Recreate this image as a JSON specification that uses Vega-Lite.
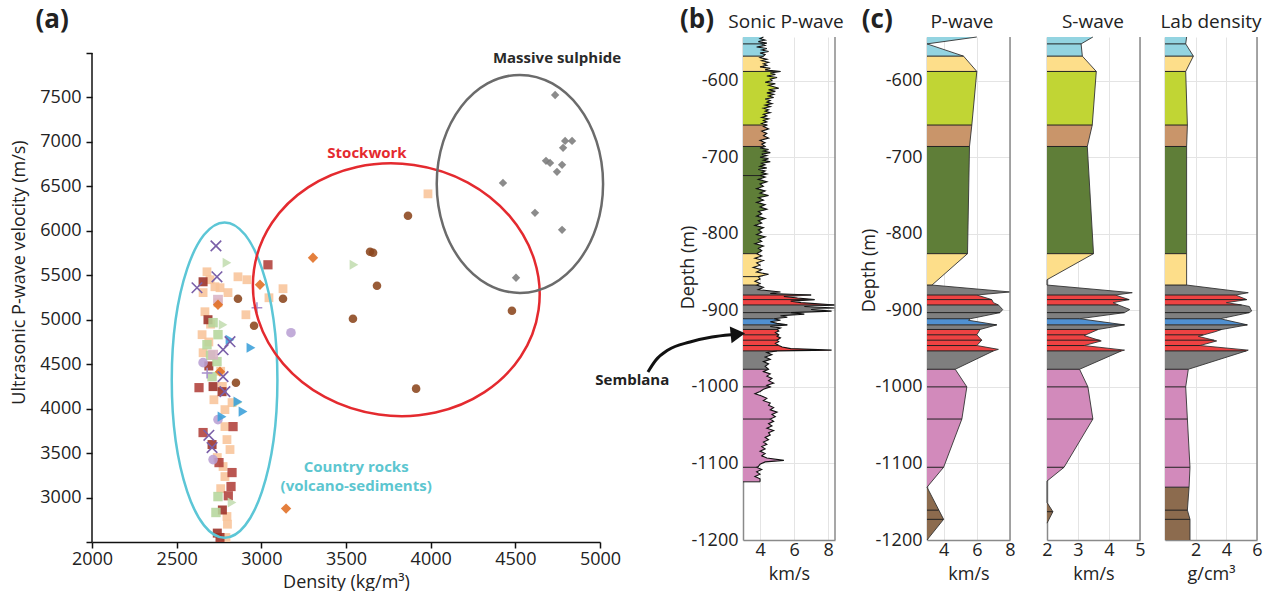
{
"$schema":"https://vega.github.io/schema/vega-lite/v6.json",
"padding":{"left":10,"top":7,"right":2,"bottom":0},
"background":"white",
"bounds":"flush",
"spacing":0,
"datasets":{
"pts":[
{"den":4735,"vel":7528,"g":"sulph"},{"den":4794,"vel":7011,"g":"sulph"},{"den":4835,"vel":7011,"g":"sulph"},{"den":4782,"vel":6933,"g":"sulph"},{"den":4681,"vel":6787,"g":"sulph"},{"den":4705,"vel":6764,"g":"sulph"},{"den":4776,"vel":6742,"g":"sulph"},{"den":4746,"vel":6663,"g":"sulph"},{"den":4427,"vel":6539,"g":"sulph"},{"den":4616,"vel":6202,"g":"sulph"},{"den":4776,"vel":6011,"g":"sulph"},{"den":4504,"vel":5472,"g":"sulph"},
{"den":3984,"vel":6416,"g":"osq"},{"den":2915,"vel":5450,"g":"osq"},{"den":3045,"vel":5247,"g":"osq"},{"den":3128,"vel":5349,"g":"osq"},{"den":2909,"vel":5056,"g":"osq"},{"den":2679,"vel":5539,"g":"osq"},{"den":2862,"vel":5483,"g":"osq"},{"den":2697,"vel":5450,"g":"osq"},{"den":2756,"vel":5360,"g":"osq"},{"den":2656,"vel":5305,"g":"osq"},{"den":2803,"vel":5305,"g":"osq"},{"den":2667,"vel":5090,"g":"osq"},{"den":2650,"vel":4832,"g":"osq"},{"den":2656,"vel":4629,"g":"osq"},{"den":2785,"vel":3989,"g":"osq"},{"den":2827,"vel":4068,"g":"osq"},{"den":2785,"vel":3798,"g":"osq"},{"den":2797,"vel":3652,"g":"osq"},{"den":2815,"vel":3540,"g":"osq"},{"den":2774,"vel":3349,"g":"osq"},{"den":2785,"vel":3236,"g":"osq"},{"den":2797,"vel":2787,"g":"osq"},{"den":2791,"vel":2551,"g":"osq"},{"den":2726,"vel":5371,"g":"osq"},{"den":2744,"vel":5191,"g":"osq"},{"den":2700,"vel":4950,"g":"osq"},{"den":2760,"vel":4420,"g":"osq"},{"den":2690,"vel":4750,"g":"osq"},{"den":2740,"vel":3450,"g":"osq"},{"den":2800,"vel":2700,"g":"osq"},{"den":2770,"vel":4250,"g":"osq"},{"den":2720,"vel":4100,"g":"osq"},{"den":2760,"vel":3100,"g":"osq"},
{"den":2715,"vel":4248,"g":"rsq"},{"den":2768,"vel":4191,"g":"rsq"},{"den":2709,"vel":3596,"g":"rsq"},{"den":2756,"vel":2551,"g":"rsq"},{"den":2685,"vel":5000,"g":"rsq"},{"den":2656,"vel":5427,"g":"rsq"},{"den":2740,"vel":2600,"g":"rsq"},{"den":2770,"vel":2860,"g":"rsq"},{"den":2690,"vel":4480,"g":"rsq"},
{"den":2632,"vel":4236,"g":"rtiny"},{"den":2656,"vel":3731,"g":"rtiny"},{"den":2833,"vel":3798,"g":"rtiny"},{"den":2827,"vel":3281,"g":"rtiny"},{"den":2821,"vel":3124,"g":"rtiny"},{"den":2750,"vel":3393,"g":"rtiny"},{"den":3039,"vel":5618,"g":"rtiny"},{"den":2805,"vel":3020,"g":"rtiny"},
{"den":2715,"vel":4967,"g":"gsq"},{"den":2744,"vel":4832,"g":"gsq"},{"den":2679,"vel":4719,"g":"gsq"},{"den":2738,"vel":4529,"g":"gsq"},{"den":2709,"vel":4360,"g":"gsq"},{"den":2744,"vel":3011,"g":"gsq"},{"den":2732,"vel":2832,"g":"gsq"},{"den":2700,"vel":4600,"g":"gsq"},
{"den":2744,"vel":5225,"g":"pksq"},{"den":2715,"vel":4607,"g":"pksq"},
{"den":3175,"vel":4854,"g":"lcirc"},{"den":2656,"vel":4517,"g":"lcirc"},{"den":2744,"vel":3877,"g":"lcirc"},{"den":2715,"vel":3427,"g":"lcirc"},
{"den":2797,"vel":5640,"g":"gtri"},{"den":2774,"vel":4944,"g":"gtri"},{"den":2827,"vel":2944,"g":"gtri"},{"den":2862,"vel":4068,"g":"gtri"},{"den":3547,"vel":5618,"g":"gtri"},
{"den":2939,"vel":4685,"g":"btri"},{"den":2862,"vel":4078,"g":"btri"},{"den":2892,"vel":3967,"g":"btri"},{"den":2815,"vel":4775,"g":"btri"},{"den":2768,"vel":3910,"g":"btri"},
{"den":3305,"vel":5697,"g":"odia"},{"den":2992,"vel":5393,"g":"odia"},{"den":3146,"vel":2876,"g":"odia"},{"den":2744,"vel":5168,"g":"odia"},{"den":2756,"vel":4416,"g":"odia"},
{"den":3866,"vel":6169,"g":"circ"},{"den":3642,"vel":5764,"g":"circ"},{"den":3660,"vel":5753,"g":"circ"},{"den":3683,"vel":5382,"g":"circ"},{"den":3541,"vel":5011,"g":"circ"},{"den":3914,"vel":4225,"g":"circ"},{"den":4480,"vel":5101,"g":"circ"},{"den":3128,"vel":5236,"g":"circ"},{"den":2957,"vel":4933,"g":"circ"},{"den":2862,"vel":5236,"g":"circ"},{"den":2850,"vel":4292,"g":"circ"},
{"den":2732,"vel":5831,"g":"x"},{"den":2620,"vel":5360,"g":"x"},{"den":2738,"vel":5483,"g":"x"},{"den":2774,"vel":4663,"g":"x"},{"den":2815,"vel":4753,"g":"x"},{"den":2774,"vel":4360,"g":"x"},{"den":2785,"vel":4191,"g":"x"},{"den":2709,"vel":3562,"g":"x"},{"den":2690,"vel":3700,"g":"x"},
{"den":2974,"vel":5135,"g":"lplus"},{"den":2680,"vel":4400,"g":"lplus"}
],
"sonic":[
{"d":-543,"v":4.2,"l":"bl"},{"d":-545,"v":4.0,"l":"bl"},{"d":-547,"v":4.3,"l":"bl"},{"d":-549,"v":3.9,"l":"bl"},{"d":-551,"v":4.4,"l":"bl"},{"d":-552,"v":4.1,"l":"bl"},{"d":-554,"v":4.3,"l":"bl"},{"d":-556,"v":3.8,"l":"bl"},{"d":-558,"v":4.4,"l":"bl"},{"d":-560,"v":4.1,"l":"bl"},{"d":-562,"v":4.5,"l":"bl"},{"d":-564,"v":4.0,"l":"bl"},{"d":-566,"v":4.3,"l":"bl"},{"d":-568,"v":4.2,"l":"bl"},
{"d":-568,"v":4.2,"l":"y1"},{"d":-570,"v":4.0,"l":"y1"},{"d":-572,"v":4.4,"l":"y1"},{"d":-574,"v":4.1,"l":"y1"},{"d":-576,"v":4.5,"l":"y1"},{"d":-578,"v":4.2,"l":"y1"},{"d":-580,"v":4.4,"l":"y1"},{"d":-582,"v":4.0,"l":"y1"},{"d":-584,"v":4.6,"l":"y1"},{"d":-586,"v":4.3,"l":"y1"},{"d":-588,"v":5.2,"l":"y1"},
{"d":-588,"v":5.2,"l":"yg"},{"d":-590,"v":4.6,"l":"yg"},{"d":-592,"v":4.9,"l":"yg"},{"d":-594,"v":4.4,"l":"yg"},{"d":-596,"v":5.0,"l":"yg"},{"d":-598,"v":4.6,"l":"yg"},{"d":-600,"v":4.7,"l":"yg"},{"d":-602,"v":4.3,"l":"yg"},{"d":-604,"v":4.9,"l":"yg"},{"d":-606,"v":4.5,"l":"yg"},{"d":-608,"v":4.8,"l":"yg"},{"d":-610,"v":5.1,"l":"yg"},{"d":-612,"v":4.5,"l":"yg"},{"d":-614,"v":4.9,"l":"yg"},{"d":-616,"v":4.4,"l":"yg"},{"d":-618,"v":4.8,"l":"yg"},{"d":-620,"v":4.5,"l":"yg"},{"d":-622,"v":4.8,"l":"yg"},{"d":-624,"v":4.3,"l":"yg"},{"d":-626,"v":4.6,"l":"yg"},{"d":-628,"v":4.4,"l":"yg"},{"d":-630,"v":4.7,"l":"yg"},{"d":-632,"v":4.3,"l":"yg"},{"d":-634,"v":4.6,"l":"yg"},{"d":-636,"v":4.2,"l":"yg"},{"d":-638,"v":4.5,"l":"yg"},{"d":-640,"v":4.3,"l":"yg"},{"d":-642,"v":4.6,"l":"yg"},{"d":-644,"v":4.2,"l":"yg"},{"d":-646,"v":4.4,"l":"yg"},{"d":-648,"v":4.1,"l":"yg"},{"d":-650,"v":4.5,"l":"yg"},{"d":-652,"v":4.2,"l":"yg"},{"d":-654,"v":4.4,"l":"yg"},{"d":-656,"v":4.1,"l":"yg"},{"d":-658,"v":4.4,"l":"yg"},
{"d":-658,"v":4.4,"l":"t"},{"d":-660,"v":4.2,"l":"t"},{"d":-663,"v":4.5,"l":"t"},{"d":-666,"v":4.1,"l":"t"},{"d":-669,"v":4.4,"l":"t"},{"d":-672,"v":4.2,"l":"t"},{"d":-675,"v":4.5,"l":"t"},{"d":-678,"v":4.0,"l":"t"},{"d":-681,"v":4.3,"l":"t"},{"d":-683,"v":4.1,"l":"t"},{"d":-686,"v":4.3,"l":"t"},
{"d":-686,"v":4.3,"l":"dg"},{"d":-688,"v":4.0,"l":"dg"},{"d":-690,"v":4.5,"l":"dg"},{"d":-692,"v":4.2,"l":"dg"},{"d":-694,"v":4.6,"l":"dg"},{"d":-696,"v":4.1,"l":"dg"},{"d":-698,"v":4.4,"l":"dg"},{"d":-700,"v":4.0,"l":"dg"},{"d":-702,"v":4.5,"l":"dg"},{"d":-704,"v":4.2,"l":"dg"},{"d":-706,"v":4.6,"l":"dg"},{"d":-708,"v":4.1,"l":"dg"},{"d":-710,"v":4.3,"l":"dg"},{"d":-712,"v":4.0,"l":"dg"},{"d":-714,"v":4.4,"l":"dg"},{"d":-716,"v":3.9,"l":"dg"},{"d":-718,"v":4.3,"l":"dg"},{"d":-720,"v":4.1,"l":"dg"},{"d":-722,"v":4.4,"l":"dg"},{"d":-724,"v":4.0,"l":"dg"},{"d":-726,"v":4.3,"l":"dg"},{"d":-729,"v":3.9,"l":"dg"},{"d":-732,"v":4.4,"l":"dg"},{"d":-735,"v":4.0,"l":"dg"},{"d":-738,"v":4.2,"l":"dg"},{"d":-741,"v":3.8,"l":"dg"},{"d":-744,"v":4.3,"l":"dg"},{"d":-747,"v":4.0,"l":"dg"},{"d":-750,"v":4.5,"l":"dg"},{"d":-753,"v":3.9,"l":"dg"},{"d":-756,"v":4.2,"l":"dg"},{"d":-759,"v":3.8,"l":"dg"},{"d":-762,"v":4.3,"l":"dg"},{"d":-765,"v":4.0,"l":"dg"},{"d":-768,"v":4.4,"l":"dg"},{"d":-771,"v":3.9,"l":"dg"},{"d":-774,"v":4.1,"l":"dg"},{"d":-777,"v":3.8,"l":"dg"},{"d":-780,"v":4.3,"l":"dg"},{"d":-783,"v":3.9,"l":"dg"},{"d":-786,"v":4.1,"l":"dg"},{"d":-789,"v":3.7,"l":"dg"},{"d":-792,"v":4.2,"l":"dg"},{"d":-795,"v":3.9,"l":"dg"},{"d":-798,"v":4.1,"l":"dg"},{"d":-801,"v":3.8,"l":"dg"},{"d":-804,"v":4.3,"l":"dg"},{"d":-807,"v":3.9,"l":"dg"},{"d":-810,"v":4.1,"l":"dg"},{"d":-813,"v":3.7,"l":"dg"},{"d":-816,"v":4.2,"l":"dg"},{"d":-819,"v":3.9,"l":"dg"},{"d":-822,"v":4.1,"l":"dg"},{"d":-826,"v":3.8,"l":"dg"},
{"d":-826,"v":3.8,"l":"y2"},{"d":-829,"v":4.1,"l":"y2"},{"d":-832,"v":3.7,"l":"y2"},{"d":-835,"v":4.2,"l":"y2"},{"d":-838,"v":3.8,"l":"y2"},{"d":-841,"v":4.0,"l":"y2"},{"d":-844,"v":3.6,"l":"y2"},{"d":-847,"v":4.1,"l":"y2"},{"d":-850,"v":3.8,"l":"y2"},{"d":-853,"v":4.5,"l":"y2"},{"d":-856,"v":3.9,"l":"y2"},{"d":-859,"v":4.0,"l":"y2"},{"d":-862,"v":3.7,"l":"y2"},{"d":-865,"v":4.0,"l":"y2"},{"d":-867,"v":3.8,"l":"y2"},
{"d":-867,"v":3.8,"l":"g1"},{"d":-870,"v":4.2,"l":"g1"},{"d":-873,"v":3.9,"l":"g1"},{"d":-876,"v":5.2,"l":"g1"},{"d":-878,"v":4.6,"l":"g1"},{"d":-880,"v":7.0,"l":"g1"},
{"d":-880,"v":7.0,"l":"r1"},{"d":-882,"v":5.4,"l":"r1"},{"d":-884,"v":6.2,"l":"r1"},{"d":-886,"v":7.2,"l":"r1"},{"d":-888,"v":5.8,"l":"r1"},{"d":-890,"v":6.4,"l":"r1"},{"d":-893,"v":8.4,"l":"r1"},
{"d":-893,"v":8.4,"l":"g2"},{"d":-895,"v":6.6,"l":"g2"},{"d":-897,"v":8.4,"l":"g2"},{"d":-899,"v":7.0,"l":"g2"},{"d":-901,"v":8.2,"l":"g2"},{"d":-903,"v":5.8,"l":"g2"},{"d":-905,"v":6.6,"l":"g2"},{"d":-907,"v":5.2,"l":"g2"},{"d":-909,"v":5.6,"l":"g2"},{"d":-911,"v":4.8,"l":"g2"},
{"d":-911,"v":4.8,"l":"b"},{"d":-913,"v":5.2,"l":"b"},{"d":-915,"v":4.6,"l":"b"},{"d":-917,"v":5.0,"l":"b"},{"d":-919,"v":5.6,"l":"b"},
{"d":-919,"v":5.6,"l":"g4"},{"d":-921,"v":4.6,"l":"g4"},{"d":-923,"v":5.2,"l":"g4"},{"d":-925,"v":5.0,"l":"g4"},
{"d":-925,"v":5.0,"l":"r3"},{"d":-927,"v":5.1,"l":"r3"},{"d":-929,"v":4.9,"l":"r3"},{"d":-932,"v":5.1,"l":"r3"},{"d":-934,"v":5.0,"l":"r3"},{"d":-936,"v":5.2,"l":"r3"},{"d":-939,"v":5.0,"l":"r3"},{"d":-941,"v":5.1,"l":"r3"},{"d":-943,"v":4.9,"l":"r3"},{"d":-946,"v":5.1,"l":"r3"},{"d":-948,"v":5.3,"l":"r3"},{"d":-950,"v":5.8,"l":"r3"},{"d":-952,"v":8.2,"l":"r3"},{"d":-953,"v":5.0,"l":"r3"},
{"d":-953,"v":5.0,"l":"g5"},{"d":-955,"v":4.4,"l":"g5"},{"d":-958,"v":4.7,"l":"g5"},{"d":-961,"v":4.3,"l":"g5"},{"d":-964,"v":4.6,"l":"g5"},{"d":-967,"v":4.2,"l":"g5"},{"d":-970,"v":4.5,"l":"g5"},{"d":-973,"v":4.3,"l":"g5"},{"d":-977,"v":4.5,"l":"g5"},
{"d":-977,"v":4.5,"l":"p"},{"d":-980,"v":4.2,"l":"p"},{"d":-983,"v":4.6,"l":"p"},{"d":-986,"v":4.4,"l":"p"},{"d":-989,"v":4.7,"l":"p"},{"d":-992,"v":4.5,"l":"p"},{"d":-995,"v":4.8,"l":"p"},{"d":-998,"v":4.4,"l":"p"},{"d":-1000,"v":4.6,"l":"p"},{"d":-1003,"v":4.2,"l":"p"},{"d":-1006,"v":4.0,"l":"p"},{"d":-1009,"v":3.7,"l":"p"},{"d":-1012,"v":4.1,"l":"p"},{"d":-1015,"v":4.4,"l":"p"},{"d":-1018,"v":4.2,"l":"p"},{"d":-1021,"v":4.6,"l":"p"},{"d":-1024,"v":4.5,"l":"p"},{"d":-1027,"v":4.8,"l":"p"},{"d":-1030,"v":4.6,"l":"p"},{"d":-1033,"v":5.0,"l":"p"},{"d":-1036,"v":4.7,"l":"p"},{"d":-1039,"v":4.9,"l":"p"},{"d":-1042,"v":4.6,"l":"p"},{"d":-1045,"v":4.8,"l":"p"},{"d":-1048,"v":4.5,"l":"p"},{"d":-1051,"v":4.7,"l":"p"},{"d":-1054,"v":4.4,"l":"p"},{"d":-1057,"v":4.8,"l":"p"},{"d":-1060,"v":4.5,"l":"p"},{"d":-1063,"v":4.6,"l":"p"},{"d":-1066,"v":4.3,"l":"p"},{"d":-1069,"v":4.5,"l":"p"},{"d":-1072,"v":4.2,"l":"p"},{"d":-1075,"v":4.4,"l":"p"},{"d":-1078,"v":4.1,"l":"p"},{"d":-1081,"v":4.3,"l":"p"},{"d":-1084,"v":4.0,"l":"p"},{"d":-1087,"v":4.3,"l":"p"},{"d":-1090,"v":4.1,"l":"p"},{"d":-1093,"v":4.4,"l":"p"},{"d":-1096,"v":5.4,"l":"p"},{"d":-1098,"v":4.3,"l":"p"},{"d":-1101,"v":4.0,"l":"p"},{"d":-1104,"v":3.9,"l":"p"},{"d":-1105,"v":3.8,"l":"p"},{"d":-1108,"v":4.1,"l":"p"},{"d":-1111,"v":3.8,"l":"p"},{"d":-1114,"v":4.0,"l":"p"},{"d":-1117,"v":3.7,"l":"p"},{"d":-1120,"v":4.0,"l":"p"},{"d":-1124,"v":4.0,"l":"p"}
],
"prof":[
{"p":"P","d":-543,"v":6.0,"l":"bl"},{"p":"P","d":-552,"v":3.0,"l":"bl"},{"p":"P","d":-568,"v":5.2,"l":"bl"},
{"p":"P","d":-568,"v":5.2,"l":"y1"},{"p":"P","d":-588,"v":6.0,"l":"y1"},
{"p":"P","d":-588,"v":6.0,"l":"yg"},{"p":"P","d":-658,"v":5.7,"l":"yg"},
{"p":"P","d":-658,"v":5.7,"l":"t"},{"p":"P","d":-686,"v":5.56,"l":"t"},
{"p":"P","d":-686,"v":5.56,"l":"dg"},{"p":"P","d":-826,"v":5.44,"l":"dg"},
{"p":"P","d":-826,"v":5.44,"l":"y2"},{"p":"P","d":-867,"v":3.3,"l":"y2"},
{"p":"P","d":-867,"v":3.3,"l":"g1"},{"p":"P","d":-876,"v":8.0,"l":"g1"},{"p":"P","d":-880,"v":6.0,"l":"g1"},
{"p":"P","d":-880,"v":6.0,"l":"r1"},{"p":"P","d":-886,"v":6.9,"l":"r1"},{"p":"P","d":-890,"v":7.0,"l":"r1"},{"p":"P","d":-893,"v":7.3,"l":"r1"},
{"p":"P","d":-893,"v":7.3,"l":"g2"},{"p":"P","d":-899,"v":7.56,"l":"g2"},{"p":"P","d":-903,"v":7.4,"l":"g2"},{"p":"P","d":-911,"v":5.6,"l":"g2"},
{"p":"P","d":-911,"v":5.6,"l":"b"},{"p":"P","d":-913,"v":5.5,"l":"b"},{"p":"P","d":-919,"v":7.2,"l":"b"},
{"p":"P","d":-919,"v":7.2,"l":"g4"},{"p":"P","d":-925,"v":6.2,"l":"g4"},
{"p":"P","d":-925,"v":6.2,"l":"r3"},{"p":"P","d":-932,"v":6.0,"l":"r3"},{"p":"P","d":-939,"v":6.3,"l":"r3"},{"p":"P","d":-946,"v":6.0,"l":"r3"},{"p":"P","d":-951,"v":7.3,"l":"r3"},{"p":"P","d":-953,"v":7.0,"l":"r3"},
{"p":"P","d":-953,"v":7.0,"l":"g5"},{"p":"P","d":-977,"v":4.7,"l":"g5"},
{"p":"P","d":-977,"v":4.7,"l":"p"},{"p":"P","d":-1000,"v":5.4,"l":"p"},{"p":"P","d":-1042,"v":5.1,"l":"p"},{"p":"P","d":-1105,"v":4.0,"l":"p"},{"p":"P","d":-1131,"v":3.0,"l":"p"},
{"p":"P","d":-1131,"v":3.0,"l":"br"},{"p":"P","d":-1173,"v":4.0,"l":"br"},{"p":"P","d":-1200,"v":3.0,"l":"br"},
{"p":"S","d":-543,"v":3.48,"l":"bl"},{"p":"S","d":-552,"v":3.1,"l":"bl"},{"p":"S","d":-568,"v":3.14,"l":"bl"},
{"p":"S","d":-568,"v":3.14,"l":"y1"},{"p":"S","d":-588,"v":3.59,"l":"y1"},
{"p":"S","d":-588,"v":3.59,"l":"yg"},{"p":"S","d":-658,"v":3.46,"l":"yg"},
{"p":"S","d":-658,"v":3.46,"l":"t"},{"p":"S","d":-686,"v":3.3,"l":"t"},
{"p":"S","d":-686,"v":3.3,"l":"dg"},{"p":"S","d":-826,"v":3.5,"l":"dg"},
{"p":"S","d":-826,"v":3.5,"l":"y2"},{"p":"S","d":-860,"v":2.0,"l":"y2"},
{"p":"S","d":-867,"v":2.0,"l":"g1"},{"p":"S","d":-877,"v":4.75,"l":"g1"},{"p":"S","d":-880,"v":4.2,"l":"g1"},
{"p":"S","d":-880,"v":4.2,"l":"r1"},{"p":"S","d":-886,"v":4.65,"l":"r1"},{"p":"S","d":-890,"v":4.13,"l":"r1"},{"p":"S","d":-893,"v":4.3,"l":"r1"},
{"p":"S","d":-893,"v":4.3,"l":"g2"},{"p":"S","d":-899,"v":4.67,"l":"g2"},{"p":"S","d":-903,"v":4.5,"l":"g2"},{"p":"S","d":-911,"v":3.05,"l":"g2"},
{"p":"S","d":-911,"v":3.05,"l":"b"},{"p":"S","d":-919,"v":4.5,"l":"b"},
{"p":"S","d":-919,"v":4.5,"l":"g4"},{"p":"S","d":-925,"v":3.65,"l":"g4"},
{"p":"S","d":-925,"v":3.65,"l":"r3"},{"p":"S","d":-933,"v":3.2,"l":"r3"},{"p":"S","d":-940,"v":3.75,"l":"r3"},{"p":"S","d":-946,"v":3.2,"l":"r3"},{"p":"S","d":-952,"v":4.5,"l":"r3"},{"p":"S","d":-953,"v":4.4,"l":"r3"},
{"p":"S","d":-953,"v":4.4,"l":"g5"},{"p":"S","d":-977,"v":3.05,"l":"g5"},
{"p":"S","d":-977,"v":3.05,"l":"p"},{"p":"S","d":-1000,"v":3.32,"l":"p"},{"p":"S","d":-1042,"v":3.48,"l":"p"},{"p":"S","d":-1105,"v":2.55,"l":"p"},{"p":"S","d":-1123,"v":2.0,"l":"p"},
{"p":"S","d":-1151,"v":2.0,"l":"br"},{"p":"S","d":-1163,"v":2.19,"l":"br"},{"p":"S","d":-1178,"v":2.0,"l":"br"},
{"p":"D","d":-543,"v":1.41,"l":"bl"},{"p":"D","d":-552,"v":1.35,"l":"bl"},{"p":"D","d":-568,"v":1.85,"l":"bl"},
{"p":"D","d":-568,"v":1.85,"l":"y1"},{"p":"D","d":-588,"v":1.35,"l":"y1"},
{"p":"D","d":-588,"v":1.35,"l":"yg"},{"p":"D","d":-658,"v":1.46,"l":"yg"},
{"p":"D","d":-658,"v":1.46,"l":"t"},{"p":"D","d":-686,"v":1.41,"l":"t"},
{"p":"D","d":-686,"v":1.41,"l":"dg"},{"p":"D","d":-826,"v":1.41,"l":"dg"},
{"p":"D","d":-826,"v":1.41,"l":"y2"},{"p":"D","d":-867,"v":1.41,"l":"y2"},
{"p":"D","d":-867,"v":1.41,"l":"g1"},{"p":"D","d":-877,"v":5.43,"l":"g1"},{"p":"D","d":-880,"v":4.6,"l":"g1"},
{"p":"D","d":-880,"v":4.6,"l":"r1"},{"p":"D","d":-886,"v":5.33,"l":"r1"},{"p":"D","d":-890,"v":4.0,"l":"r1"},{"p":"D","d":-893,"v":5.0,"l":"r1"},
{"p":"D","d":-893,"v":5.0,"l":"g2"},{"p":"D","d":-895,"v":5.5,"l":"g2"},{"p":"D","d":-901,"v":5.65,"l":"g2"},{"p":"D","d":-903,"v":5.5,"l":"g2"},{"p":"D","d":-911,"v":3.6,"l":"g2"},
{"p":"D","d":-911,"v":3.6,"l":"b"},{"p":"D","d":-919,"v":5.37,"l":"b"},
{"p":"D","d":-919,"v":5.37,"l":"g4"},{"p":"D","d":-925,"v":3.7,"l":"g4"},
{"p":"D","d":-925,"v":3.7,"l":"r3"},{"p":"D","d":-928,"v":3.26,"l":"r3"},{"p":"D","d":-934,"v":2.17,"l":"r3"},{"p":"D","d":-940,"v":3.37,"l":"r3"},{"p":"D","d":-946,"v":2.28,"l":"r3"},{"p":"D","d":-952,"v":5.43,"l":"r3"},{"p":"D","d":-953,"v":5.3,"l":"r3"},
{"p":"D","d":-953,"v":5.3,"l":"g5"},{"p":"D","d":-977,"v":1.52,"l":"g5"},
{"p":"D","d":-977,"v":1.52,"l":"p"},{"p":"D","d":-1000,"v":1.35,"l":"p"},{"p":"D","d":-1042,"v":1.46,"l":"p"},{"p":"D","d":-1105,"v":1.63,"l":"p"},{"p":"D","d":-1131,"v":1.57,"l":"p"},
{"p":"D","d":-1131,"v":1.57,"l":"br"},{"p":"D","d":-1161,"v":1.46,"l":"br"},{"p":"D","d":-1173,"v":1.63,"l":"br"},{"p":"D","d":-1200,"v":1.63,"l":"br"}
],
"bnd":[
{"p":"B","d":-552,"v":4.1},{"p":"B","d":-568,"v":4.2},{"p":"B","d":-588,"v":5.2},{"p":"B","d":-658,"v":4.4},{"p":"B","d":-686,"v":4.3},{"p":"B","d":-724,"v":4.0},{"p":"B","d":-826,"v":3.8},{"p":"B","d":-856,"v":3.9},{"p":"B","d":-867,"v":3.8},{"p":"B","d":-880,"v":7.0},{"p":"B","d":-886,"v":7.2},{"p":"B","d":-893,"v":8.4},{"p":"B","d":-903,"v":5.8},{"p":"B","d":-911,"v":4.8},{"p":"B","d":-919,"v":5.6},{"p":"B","d":-925,"v":5.0},{"p":"B","d":-932,"v":5.1},{"p":"B","d":-939,"v":5.0},{"p":"B","d":-946,"v":5.1},{"p":"B","d":-953,"v":5.0},{"p":"B","d":-977,"v":4.5},{"p":"B","d":-1000,"v":4.6},{"p":"B","d":-1042,"v":4.6},{"p":"B","d":-1105,"v":3.8},{"p":"B","d":-1124,"v":4.0},
{"p":"P","d":-568,"v":5.2},{"p":"P","d":-588,"v":6.0},{"p":"P","d":-658,"v":5.7},{"p":"P","d":-686,"v":5.56},{"p":"P","d":-826,"v":5.44},{"p":"P","d":-867,"v":3.3},{"p":"P","d":-880,"v":6.0},{"p":"P","d":-886,"v":6.9},{"p":"P","d":-893,"v":7.3},{"p":"P","d":-903,"v":7.4},{"p":"P","d":-911,"v":5.6},{"p":"P","d":-919,"v":7.2},{"p":"P","d":-925,"v":6.2},{"p":"P","d":-932,"v":6.0},{"p":"P","d":-939,"v":6.3},{"p":"P","d":-946,"v":6.0},{"p":"P","d":-953,"v":7.0},{"p":"P","d":-977,"v":4.7},{"p":"P","d":-1000,"v":5.4},{"p":"P","d":-1042,"v":5.1},{"p":"P","d":-1105,"v":4.0},{"p":"P","d":-1161,"v":3.7},{"p":"P","d":-1173,"v":4.0},
{"p":"S","d":-552,"v":3.1},{"p":"S","d":-568,"v":3.14},{"p":"S","d":-588,"v":3.59},{"p":"S","d":-658,"v":3.46},{"p":"S","d":-686,"v":3.3},{"p":"S","d":-826,"v":3.5},{"p":"S","d":-880,"v":4.2},{"p":"S","d":-886,"v":4.65},{"p":"S","d":-893,"v":4.3},{"p":"S","d":-903,"v":4.5},{"p":"S","d":-911,"v":3.05},{"p":"S","d":-919,"v":4.5},{"p":"S","d":-925,"v":3.65},{"p":"S","d":-932,"v":3.25},{"p":"S","d":-939,"v":3.7},{"p":"S","d":-946,"v":3.2},{"p":"S","d":-953,"v":4.4},{"p":"S","d":-977,"v":3.05},{"p":"S","d":-1000,"v":3.32},{"p":"S","d":-1042,"v":3.48},{"p":"S","d":-1105,"v":2.55},{"p":"S","d":-1163,"v":2.19},
{"p":"D","d":-552,"v":1.35},{"p":"D","d":-568,"v":1.85},{"p":"D","d":-588,"v":1.35},{"p":"D","d":-658,"v":1.46},{"p":"D","d":-686,"v":1.41},{"p":"D","d":-826,"v":1.41},{"p":"D","d":-867,"v":1.41},{"p":"D","d":-880,"v":4.6},{"p":"D","d":-886,"v":5.33},{"p":"D","d":-893,"v":5.0},{"p":"D","d":-903,"v":5.5},{"p":"D","d":-911,"v":3.6},{"p":"D","d":-919,"v":5.37},{"p":"D","d":-925,"v":3.7},{"p":"D","d":-932,"v":2.5},{"p":"D","d":-939,"v":3.2},{"p":"D","d":-946,"v":2.28},{"p":"D","d":-953,"v":5.3},{"p":"D","d":-977,"v":1.52},{"p":"D","d":-1000,"v":1.35},{"p":"D","d":-1042,"v":1.46},{"p":"D","d":-1105,"v":1.63},{"p":"D","d":-1131,"v":1.57},{"p":"D","d":-1161,"v":1.46},{"p":"D","d":-1173,"v":1.63}
],
"arrow":[
{"ax":-2.58,"ay":-980.6},{"ax":-2.11,"ay":-964.9},{"ax":-1.4,"ay":-951.8},{"ax":-0.11,"ay":-941.4},{"ax":1.18,"ay":-934.9},{"ax":2.3,"ay":-932.0}
]
},
"hconcat":[
{
"width":508,"height":505,
"layer":[
{"data":{"name":"pts"},"transform":[{"filter":"datum.g!=='x' && datum.g!=='lplus'"}],
"mark":{"type":"point","filled":true,"opacity":0.88},
"encoding":{
"x":{"field":"den","type":"quantitative","scale":{"domain":[2000,5000],"nice":false,"zero":false},"axis":{"title":"Density (kg/m³)","values":[2000,2500,3000,3500,4000,4500,5000],"tickCount":20,"format":"d","grid":false,"domainColor":"#111","domainWidth":1.5,"ticks":true,"tickColor":"#111","tickSize":6,"tickWidth":1.5,"labelPadding":2,"titlePadding":5,"labelFlush":false,"labelOverlap":false}},
"y":{"field":"vel","type":"quantitative","scale":{"domain":[2500,8180],"nice":false,"zero":false},"axis":{"title":"Ultrasonic P-wave velocity (m/s)","values":[2500,3000,3500,4000,4500,5000,5500,6000,6500,7000,7500,8000],"tickCount":20,"format":"d","labelExpr":"datum.value==2500||datum.value==8000?'':datum.label","grid":false,"domain":false,"ticks":true,"tickColor":"#111","tickSize":6,"tickWidth":1.5,"labelPadding":5,"titleX":-64,"titleY":235,"labelOverlap":false}},
"shape":{"field":"g","type":"nominal","scale":{"domain":["sulph","circ","osq","rsq","rtiny","gsq","lcirc","pksq","gtri","btri","odia","x","lplus"],"range":["diamond","circle","square","square","square","square","circle","square","triangle-right","triangle-right","diamond","M-1,-1L1,1M-1,1L1,-1","M-1,0L1,0M0,-1L0,1"]},"legend":null},
"color":{"field":"g","type":"nominal","scale":{"domain":["sulph","circ","osq","rsq","rtiny","gsq","lcirc","pksq","gtri","btri","odia","x","lplus"],"range":["#7b7b7b","#8b461c","#f8c49a","#9b2f25","#b0403a","#b5d69c","#b9a0d4","#d9b4c6","#c3ddb0","#3a9fd9","#e06d22","#7a5fa8","#a890cc"]},"legend":null},
"size":{"field":"g","type":"ordinal","scale":{"domain":["sulph","circ","osq","rsq","rtiny","gsq","lcirc","pksq","gtri","btri","odia","x","lplus"],"range":[70,115,160,90,22,180,100,170,140,100,60,90,80]},"legend":null}
}},
{"data":{"name":"pts"},"transform":[{"filter":"datum.g==='x' || datum.g==='lplus'"}],
"mark":{"type":"point","filled":false,"opacity":1,"strokeWidth":1.6},
"encoding":{
"x":{"field":"den","type":"quantitative"},
"y":{"field":"vel","type":"quantitative"},
"shape":{"field":"g","type":"nominal","legend":null},
"color":{"field":"g","type":"nominal","legend":null},
"size":{"field":"g","type":"ordinal","legend":null}
}},
{"data":{"values":[{}]},"mark":{"type":"point","shape":"M0.335,0C0.335,0.552,0.185,1,0,1C-0.185,1,-0.335,0.552,-0.335,0C-0.335,-0.552,-0.185,-1,0,-1C0.185,-1,0.335,-0.552,0.335,0Z","size":99477,"filled":false,"stroke":"#5cc6d6","strokeWidth":2.5,"opacity":1},"encoding":{"x":{"datum":2783},"y":{"datum":4321}}},
{"data":{"values":[{}]},"mark":{"type":"point","shape":"M1,0C1,0.484,0.552,0.877,0,0.877C-0.552,0.877,-1,0.484,-1,0C-1,-0.484,-0.552,-0.877,0,-0.877C0.552,-0.877,1,-0.484,1,0Z","size":82600,"angle":8,"filled":false,"stroke":"#e42a2f","strokeWidth":2.5,"opacity":1},"encoding":{"x":{"datum":3797},"y":{"datum":5337}}},
{"data":{"values":[{}]},"mark":{"type":"point","shape":"M0.763,0C0.763,0.552,0.421,1,0,1C-0.421,1,-0.763,0.552,-0.763,0C-0.763,-0.552,-0.421,-1,0,-1C0.421,-1,0.763,-0.552,0.763,0Z","size":47524,"filled":false,"stroke":"#6b6b6b","strokeWidth":2.5,"opacity":1},"encoding":{"x":{"datum":4527},"y":{"datum":6528}}},
{"data":{"values":[{}]},"mark":{"type":"text","text":"Massive sulphide","font":"Open Sans","fontSize":15,"fontWeight":"bold","color":"#2a2a2a"},"encoding":{"x":{"datum":4746},"y":{"datum":7944}}},
{"data":{"values":[{}]},"mark":{"type":"text","text":"Stockwork","font":"Open Sans","fontSize":15,"fontWeight":"bold","color":"#e42a2f"},"encoding":{"x":{"datum":3624},"y":{"datum":6876}}},
{"data":{"values":[{}]},"mark":{"type":"text","text":["Country rocks","(volcano-sediments)"],"lineHeight":19,"font":"Open Sans","fontSize":15,"fontWeight":"bold","color":"#5cc6d0"},"encoding":{"x":{"datum":3560},"y":{"datum":3343}}},
{"data":{"values":[{}]},"mark":{"type":"text","text":"(a)","font":"Open Sans","fontSize":26,"fontWeight":"bold","color":"#222"},"encoding":{"x":{"datum":1764},"y":{"datum":8371}}},
{"data":{"values":[{}]},"mark":{"type":"rule","color":"#111","strokeWidth":1.5},"encoding":{"x":{"datum":2000},"y":{"datum":2500},"y2":{"datum":8000}}}
]
},
{"width":143,"height":503,"data":{"values":[]},"mark":"point"},
{
"width":92,"height":503,
"layer":[
{"data":{"name":"sonic"},"mark":{"type":"area","orient":"horizontal","opacity":1},
"encoding":{
"y":{"field":"d","type":"quantitative","scale":{"domain":[-1200,-543],"nice":false,"zero":false},"axis":{"title":"Depth (m)","values":[-600,-700,-800,-900,-1000,-1100,-1200],"tickCount":20,"labelExpr":"''+datum.value","labelPadding":5,"titleX":-46,"titleY":230}},
"x":{"field":"v","type":"quantitative","stack":null,"scale":{"domain":[3,8.4],"nice":false,"zero":false},"axis":{"title":"km/s","values":[4,6,8],"tickCount":20,"format":"d","labelPadding":1,"titlePadding":6,"labelFlush":false,"labelOverlap":false}},
"x2":{"datum":3},
"color":{"field":"l","type":"nominal","scale":{"domain":["bl","y1","yg","t","dg","y2","g1","r1","g2","b","g4","r3","g5","p","br"],"range":["#93d4e1","#fdde8a","#c1d534","#c9956a","#5f7e38","#fdde8a","#7f7f7f","#ee4242","#7f7f7f","#5090d0","#7f7f7f","#ee4242","#7f7f7f","#d28abb","#8c6b4e"]},"legend":null}
}},
{"data":{"name":"sonic"},"mark":{"type":"line","color":"#111","strokeWidth":1.1},"encoding":{"y":{"field":"d","type":"quantitative"},"x":{"field":"v","type":"quantitative"},"order":{"field":"d","type":"quantitative"}}},
{"data":{"name":"bnd"},"transform":[{"filter":"datum.p==='B'"}],"mark":{"type":"rule","color":"#222","strokeWidth":1},"encoding":{"y":{"field":"d","type":"quantitative"},"x":{"field":"v","type":"quantitative"},"x2":{"datum":3}}},
{"data":{"values":[{}]},"mark":{"type":"rule","color":"#8a8a8a","strokeWidth":1.5},"encoding":{"x":{"datum":8.4}}},
{"data":{"values":[{}]},"mark":{"type":"text","text":"Sonic P-wave","font":"Open Sans","fontSize":19,"color":"#222"},"encoding":{"x":{"datum":5.52},"y":{"datum":-523.5}}},
{"data":{"values":[{}]},"mark":{"type":"text","text":"(b)","font":"Open Sans","fontSize":26,"fontWeight":"bold","color":"#222"},"encoding":{"x":{"datum":0.3},"y":{"datum":-521}}},
{"data":{"values":[{}]},"mark":{"type":"text","text":"Semblana","font":"Open Sans","fontSize":15,"fontWeight":"bold","color":"#222"},"encoding":{"x":{"datum":-3.5},"y":{"datum":-991}}},
{"data":{"name":"arrow"},"mark":{"type":"line","color":"#111","strokeWidth":3,"interpolate":"monotone"},"encoding":{"x":{"field":"ax","type":"quantitative"},"y":{"field":"ay","type":"quantitative"}}},
{"data":{"values":[{}]},"mark":{"type":"point","shape":"triangle-right","filled":true,"color":"#111","size":280,"angle":-6,"opacity":1},"encoding":{"x":{"datum":2.7},"y":{"datum":-931}}}
]
},
{"width":92,"height":503,"data":{"values":[]},"mark":"point"},
{
"width":83,"height":503,
"layer":[
{"data":{"name":"prof"},"transform":[{"filter":"datum.p==='P'"}],"mark":{"type":"area","orient":"horizontal","opacity":1},
"encoding":{
"y":{"field":"d","type":"quantitative","scale":{"domain":[-1200,-543],"nice":false,"zero":false},"axis":{"title":"Depth (m)","values":[-600,-700,-800,-900,-1000,-1100,-1200],"tickCount":20,"labelExpr":"''+datum.value","labelPadding":5,"titleX":-49,"titleY":233}},
"x":{"field":"v","type":"quantitative","stack":null,"scale":{"domain":[3,8],"nice":false,"zero":false},"axis":{"title":"km/s","values":[4,6,8],"tickCount":20,"format":"d","labelPadding":1,"titlePadding":6,"labelFlush":false,"labelOverlap":false}},
"x2":{"datum":3},
"color":{"field":"l","type":"nominal","scale":{"domain":["bl","y1","yg","t","dg","y2","g1","r1","g2","b","g4","r3","g5","p","br"],"range":["#93d4e1","#fdde8a","#c1d534","#c9956a","#5f7e38","#fdde8a","#7f7f7f","#ee4242","#7f7f7f","#5090d0","#7f7f7f","#ee4242","#7f7f7f","#d28abb","#8c6b4e"]},"legend":null}
}},
{"data":{"name":"prof"},"transform":[{"filter":"datum.p==='P'"}],"mark":{"type":"line","color":"#333","strokeWidth":0.9},"encoding":{"y":{"field":"d","type":"quantitative"},"x":{"field":"v","type":"quantitative"},"order":{"field":"d","type":"quantitative"}}},
{"data":{"name":"bnd"},"transform":[{"filter":"datum.p==='P'"}],"mark":{"type":"rule","color":"#222","strokeWidth":1},"encoding":{"y":{"field":"d","type":"quantitative"},"x":{"field":"v","type":"quantitative"},"x2":{"datum":3}}},
{"data":{"values":[{}]},"mark":{"type":"rule","color":"#8a8a8a","strokeWidth":1.5},"encoding":{"x":{"datum":8}}},
{"data":{"values":[{}]},"mark":{"type":"text","text":"P-wave","font":"Open Sans","fontSize":19,"color":"#222"},"encoding":{"x":{"datum":5.1},"y":{"datum":-523.5}}},
{"data":{"values":[{}]},"mark":{"type":"text","text":"(c)","font":"Open Sans","fontSize":26,"fontWeight":"bold","color":"#222"},"encoding":{"x":{"datum":0.0},"y":{"datum":-521}}}
]
},
{"width":37,"height":503,"data":{"values":[]},"mark":"point"},
{
"width":93,"height":503,
"layer":[
{"data":{"name":"prof"},"transform":[{"filter":"datum.p==='S'"}],"mark":{"type":"area","orient":"horizontal","opacity":1},
"encoding":{
"y":{"field":"d","type":"quantitative","scale":{"domain":[-1200,-543],"nice":false,"zero":false},"axis":{"title":null,"labels":false,"values":[-600,-700,-800,-900,-1000,-1100,-1200],"tickCount":20}},
"x":{"field":"v","type":"quantitative","stack":null,"scale":{"domain":[2,5],"nice":false,"zero":false},"axis":{"title":"km/s","values":[2,3,4,5],"tickCount":20,"format":"d","labelPadding":1,"titlePadding":6,"labelFlush":false,"labelOverlap":false}},
"x2":{"datum":2},
"color":{"field":"l","type":"nominal","scale":{"domain":["bl","y1","yg","t","dg","y2","g1","r1","g2","b","g4","r3","g5","p","br"],"range":["#93d4e1","#fdde8a","#c1d534","#c9956a","#5f7e38","#fdde8a","#7f7f7f","#ee4242","#7f7f7f","#5090d0","#7f7f7f","#ee4242","#7f7f7f","#d28abb","#8c6b4e"]},"legend":null}
}},
{"data":{"name":"prof"},"transform":[{"filter":"datum.p==='S'"}],"mark":{"type":"line","color":"#333","strokeWidth":0.9},"encoding":{"y":{"field":"d","type":"quantitative"},"x":{"field":"v","type":"quantitative"},"order":{"field":"d","type":"quantitative"}}},
{"data":{"name":"bnd"},"transform":[{"filter":"datum.p==='S'"}],"mark":{"type":"rule","color":"#222","strokeWidth":1},"encoding":{"y":{"field":"d","type":"quantitative"},"x":{"field":"v","type":"quantitative"},"x2":{"datum":2}}},
{"data":{"values":[{}]},"mark":{"type":"rule","color":"#8a8a8a","strokeWidth":1.5},"encoding":{"x":{"datum":5}}},
{"data":{"values":[{}]},"mark":{"type":"text","text":"S-wave","font":"Open Sans","fontSize":19,"color":"#222"},"encoding":{"x":{"datum":3.48},"y":{"datum":-523.5}}}
]
},
{"width":25,"height":503,"data":{"values":[]},"mark":"point"},
{
"width":92,"height":503,
"layer":[
{"data":{"name":"prof"},"transform":[{"filter":"datum.p==='D'"}],"mark":{"type":"area","orient":"horizontal","opacity":1},
"encoding":{
"y":{"field":"d","type":"quantitative","scale":{"domain":[-1200,-543],"nice":false,"zero":false},"axis":{"title":null,"labels":false,"values":[-600,-700,-800,-900,-1000,-1100,-1200],"tickCount":20}},
"x":{"field":"v","type":"quantitative","stack":null,"scale":{"domain":[0,6],"nice":false,"zero":false},"axis":{"title":"g/cm³","values":[2,4,6],"tickCount":20,"format":"d","labelPadding":1,"titlePadding":6,"labelFlush":false,"labelOverlap":false}},
"x2":{"datum":0},
"color":{"field":"l","type":"nominal","scale":{"domain":["bl","y1","yg","t","dg","y2","g1","r1","g2","b","g4","r3","g5","p","br"],"range":["#93d4e1","#fdde8a","#c1d534","#c9956a","#5f7e38","#fdde8a","#7f7f7f","#ee4242","#7f7f7f","#5090d0","#7f7f7f","#ee4242","#7f7f7f","#d28abb","#8c6b4e"]},"legend":null}
}},
{"data":{"name":"prof"},"transform":[{"filter":"datum.p==='D'"}],"mark":{"type":"line","color":"#333","strokeWidth":0.9},"encoding":{"y":{"field":"d","type":"quantitative"},"x":{"field":"v","type":"quantitative"},"order":{"field":"d","type":"quantitative"}}},
{"data":{"name":"bnd"},"transform":[{"filter":"datum.p==='D'"}],"mark":{"type":"rule","color":"#222","strokeWidth":1},"encoding":{"y":{"field":"d","type":"quantitative"},"x":{"field":"v","type":"quantitative"},"x2":{"datum":0}}},
{"data":{"values":[{}]},"mark":{"type":"rule","color":"#8a8a8a","strokeWidth":1.5},"encoding":{"x":{"datum":6}}},
{"data":{"values":[{}]},"mark":{"type":"text","text":"Lab density","font":"Open Sans","fontSize":19,"color":"#222"},"encoding":{"x":{"datum":3.0},"y":{"datum":-523.5}}}
]
}
],
"resolve":{"scale":{"color":"independent","shape":"independent","size":"independent","x":"independent","y":"independent"}},
"config":{
"view":{"stroke":null},
"font":"Open Sans",
"axis":{"labelFont":"Open Sans","titleFont":"Open Sans","labelFontSize":18,"titleFontSize":18,"titleFontWeight":"normal","labelColor":"#222","titleColor":"#222","grid":true,"gridColor":"#e4e4e4","domainColor":"#8a8a8a","domainWidth":1.5,"ticks":false}
}
}
